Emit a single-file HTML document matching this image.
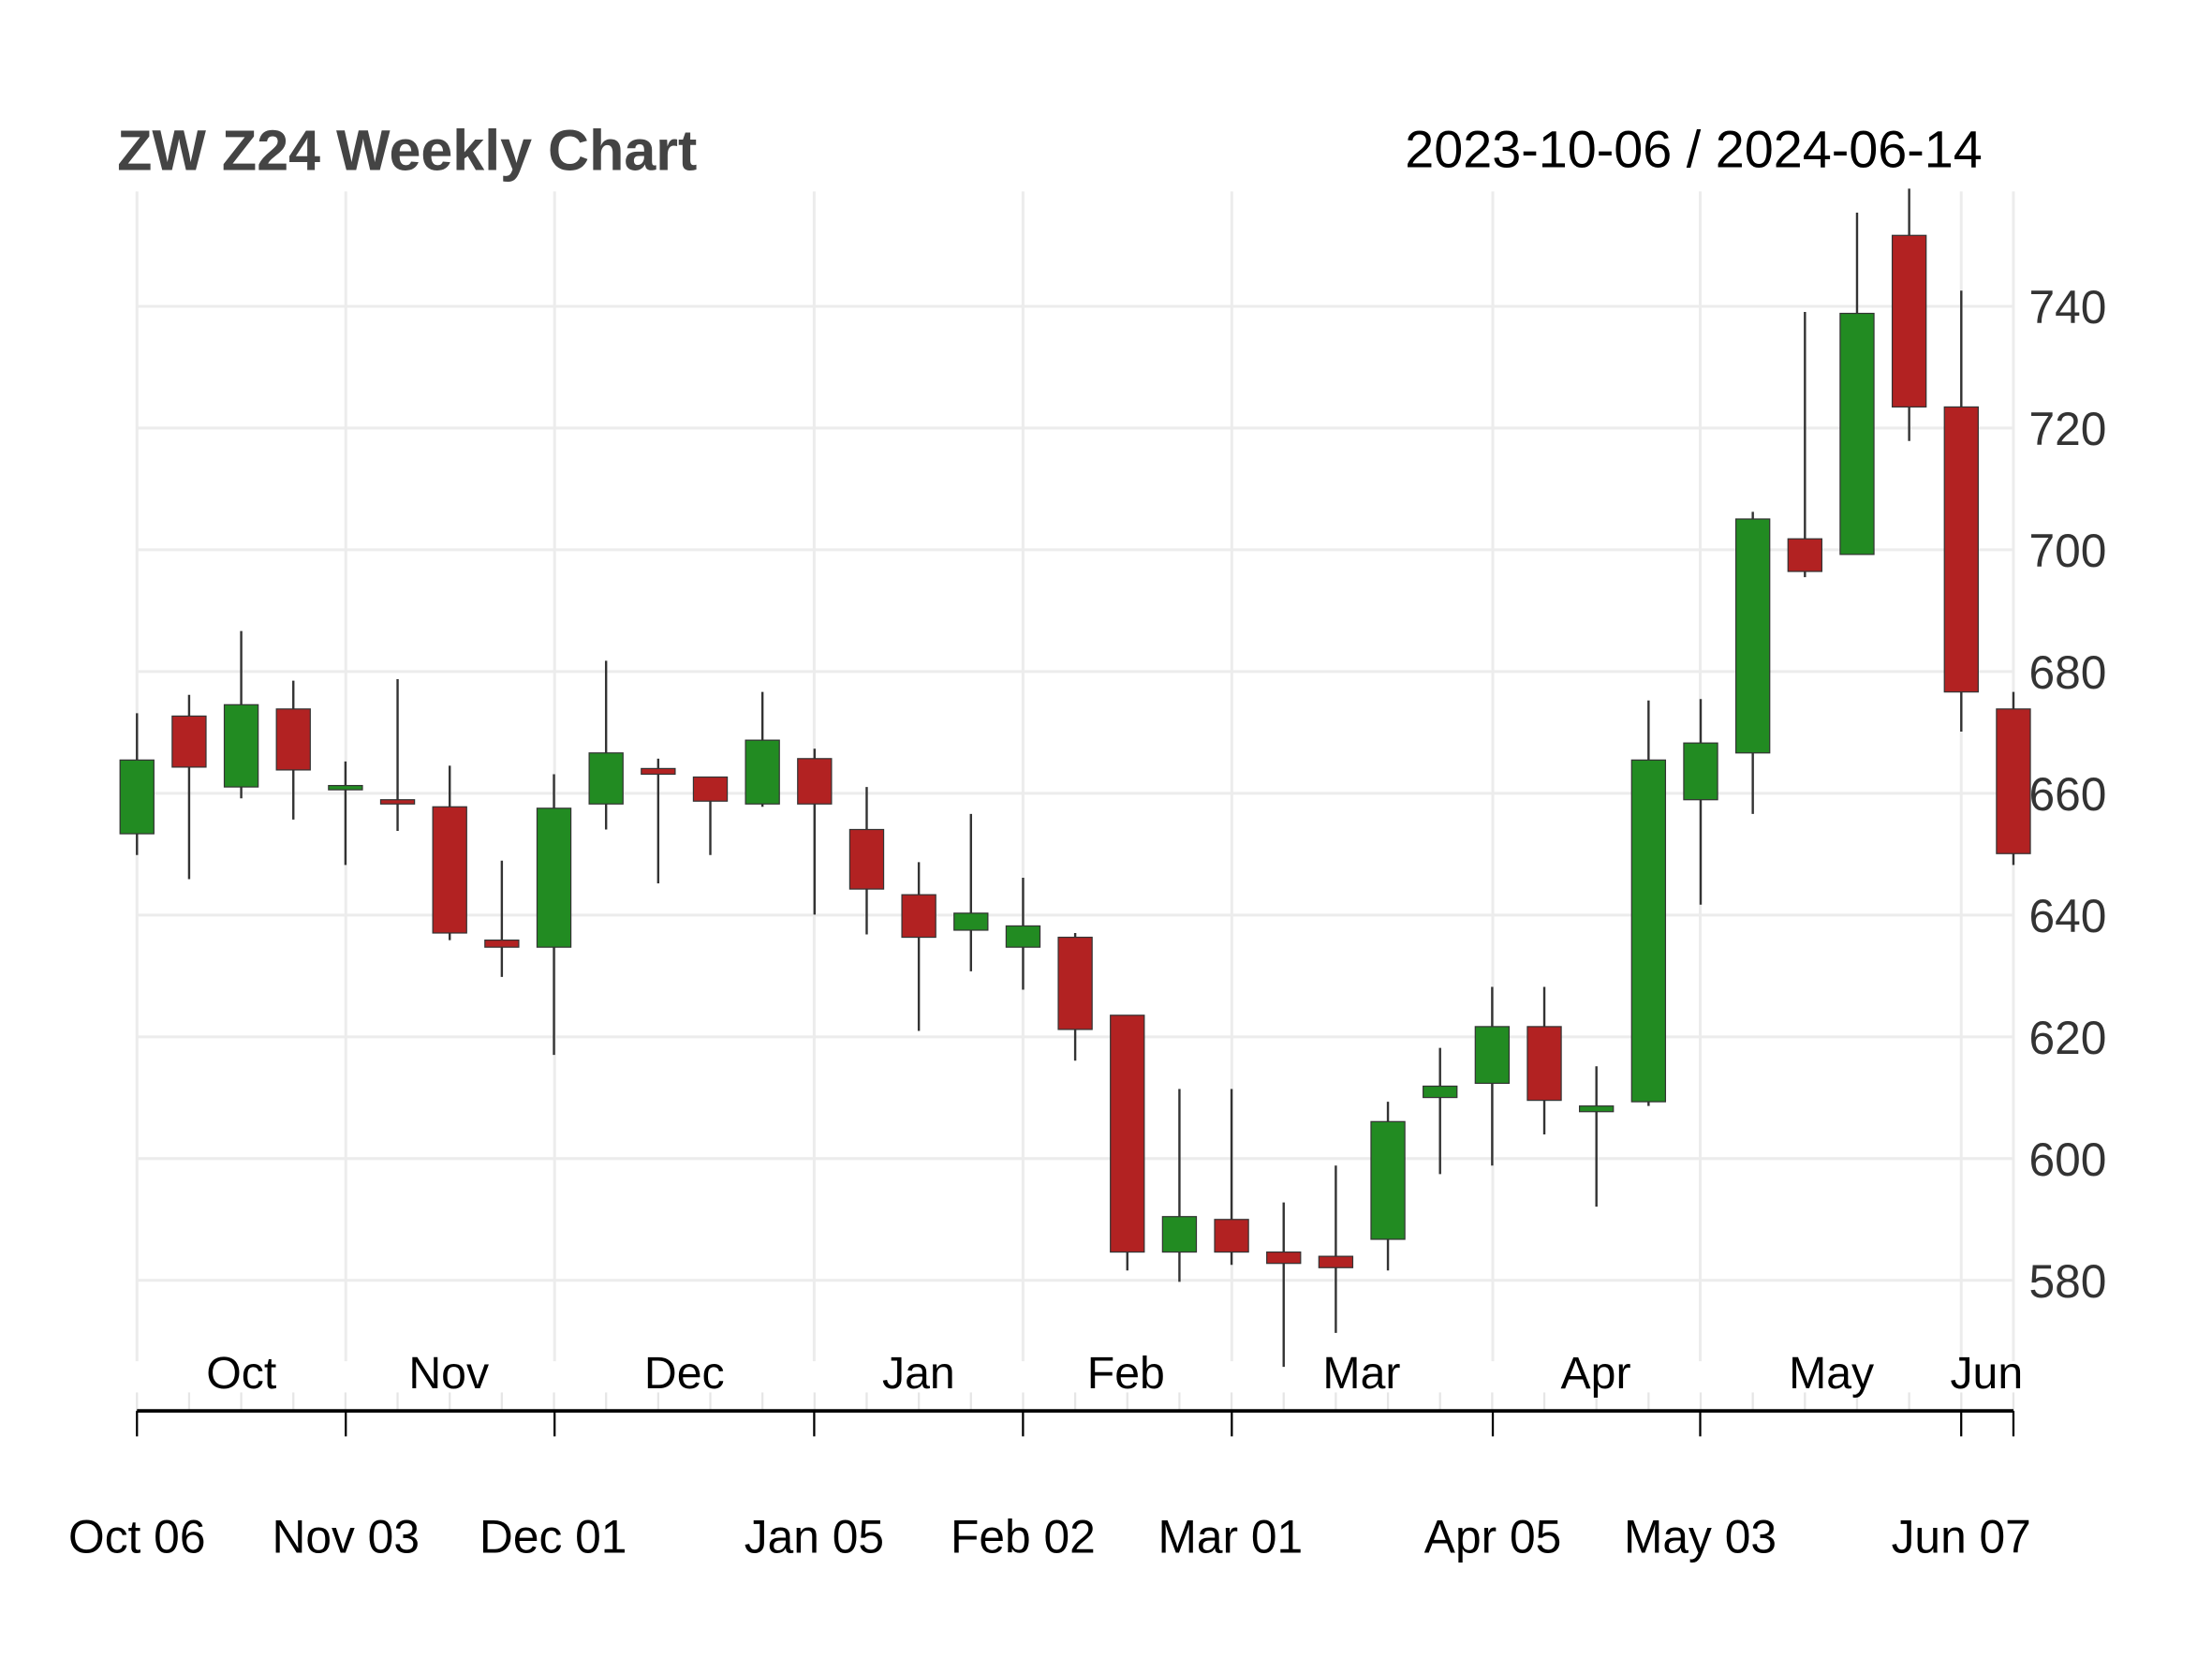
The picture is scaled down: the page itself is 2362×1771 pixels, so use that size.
<!DOCTYPE html>
<html><head><meta charset="utf-8"><style>
html,body{margin:0;padding:0;background:#fff}
svg{display:block}
text{font-family:"Liberation Sans",Arial,sans-serif}
</style></head><body>
<svg id="s" width="2362" height="1771" viewBox="0 0 1560 1170" preserveAspectRatio="none" xmlns="http://www.w3.org/2000/svg">
<rect width="1560" height="1170" fill="#fff"/>
<g transform="translate(96.6,0) scale(0.995,1) translate(-97,0)">
<g id="grid" stroke="#ececec" stroke-width="2"></g>
<g id="candles"></g>
<text x="83" y="120" font-size="40.5" font-weight="bold" fill="#444">ZW Z24 Weekly Chart</text>
<text x="1405" y="118" font-size="37" fill="#000" text-anchor="end">2023-10-06 / 2024-06-14</text>
<g id="ylab" font-size="33" fill="#333"></g>
<g id="xaxis"></g>
</g>
</svg>
<script>
var ns="http://www.w3.org/2000/svg";
function el(p,t,a,txt){var e=document.createElementNS(ns,t);for(var k in a)e.setAttribute(k,a[k]);if(txt)e.textContent=txt;document.getElementById(p).appendChild(e);return e;}
var vx=[97,245,393,577,725,873,1058,1205,1390,1427];
vx.forEach(function(x){el('grid','line',{x1:x,y1:135,x2:x,y2:960});});
var yv=[740,720,700,680,660,640,620,600,580];
yv.forEach(function(v,i){var y=216+i*85.87;el('grid','line',{x1:97,y1:y,x2:1427,y2:y});el('ylab','text',{x:1438,y:y+12},String(v));});
var d=[
[536,588,503,603,'G'],[505,541,490,620,'R'],[497,555,445,563,'G'],[500,543,480,578,'R'],
[554,557,537,610,'G'],[564,566,479,586,'R'],[569,658,540,663,'R'],[663,668,607,689,'R'],
[570,668,546,744,'G'],[531,567,466,585,'G'],[542,546,535,623,'R'],[548,565,548,603,'R'],
[522,567,488,569,'G'],[535,567,528,645,'R'],[585,627,555,659,'R'],[631,661,608,727,'R'],
[644,656,574,685,'G'],[653,668,619,698,'G'],[661,726,658,748,'R'],[716,883,716,896,'R'],
[858,883,768,904,'G'],[860,883,768,892,'R'],[883,891,848,964,'R'],[886,894,822,940,'R'],
[791,874,777,896,'G'],[766,774,739,828,'G'],[724,764,696,822,'G'],[724,776,696,800,'R'],
[780,784,752,851,'G'],[536,777,494,780,'G'],[524,564,493,638,'G'],[366,531,361,574,'G'],
[380,403,220,407,'R'],[221,391,150,391,'G'],[166,287,133,311,'R'],[287,488,205,516,'R'],
[500,602,488,610,'R']];
var sp=(1427-97)/36;
d.forEach(function(c,i){var x=97+i*sp;
el('candles','line',{x1:x,y1:c[2],x2:x,y2:c[3],stroke:'#333','stroke-width':1.6});
el('candles','rect',{x:x-12,y:c[0],width:24,height:Math.max(c[1]-c[0],3),fill:c[4]=='G'?'#228B22':'#B22222',stroke:'#333','stroke-width':0.8});});
for(var i=0;i<37;i++){var x=97+i*sp;el('xaxis','line',{x1:x,y1:982,x2:x,y2:995,stroke:'#e6e6e6','stroke-width':1.5});}
el('xaxis','line',{x1:97,y1:995,x2:1427,y2:995,stroke:'#000','stroke-width':2.5});
vx.forEach(function(x){el('xaxis','line',{x1:x,y1:995,x2:x,y2:1013,stroke:'#000','stroke-width':1.5});});
var m=[['Oct',171],['Nov',318],['Dec',485],['Jan',651],['Feb',798],['Mar',965],['Apr',1131],['May',1298],['Jun',1408]];
m.forEach(function(a){el('xaxis','text',{x:a[1],y:979,'font-size':32,'text-anchor':'middle',fill:'#000'},a[0]);});
var b=[['Oct 06',97],['Nov 03',245],['Dec 01',392],['Jan 05',577],['Feb 02',725],['Mar 01',872],['Apr 05',1058],['May 03',1205],['Jun 07',1390]];
b.forEach(function(a){el('xaxis','text',{x:a[1],y:1095,'font-size':33,'text-anchor':'middle',fill:'#000'},a[0]);});
</script>
</body></html>
